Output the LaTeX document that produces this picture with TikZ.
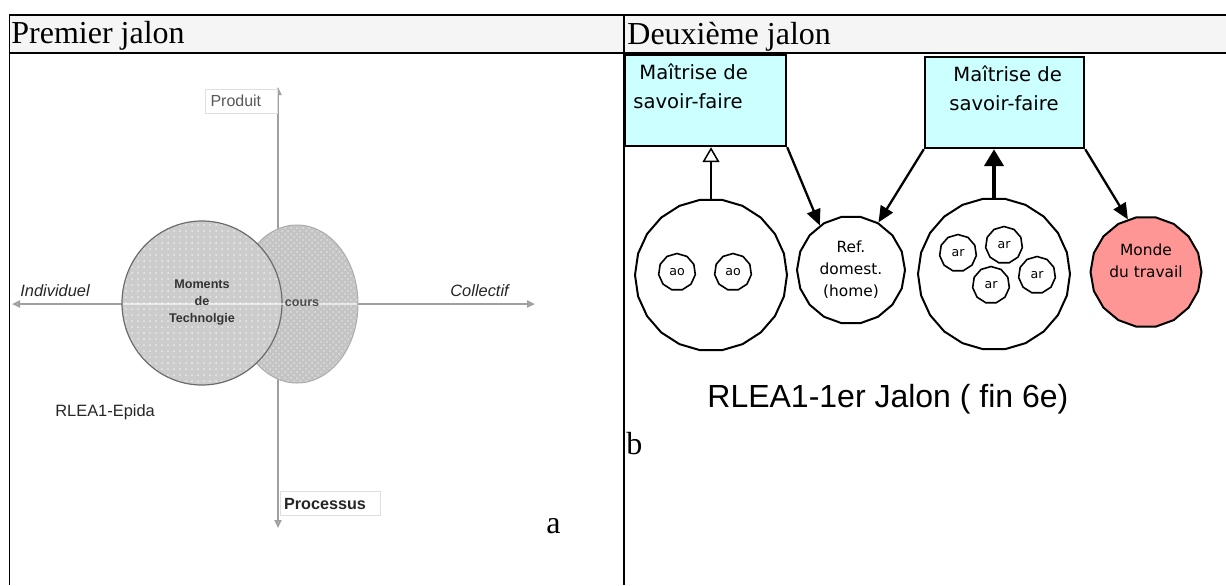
\documentclass[tikz,border=0pt]{standalone}
\usepackage{fontspec}
\setmainfont{Liberation Serif}
\newfontfamily\arialf{Liberation Sans}
\newfontfamily\dejavuf{DejaVu Sans}
\usepackage{tikz}
\usetikzlibrary{arrows.meta,shapes.geometric,patterns,calc}

\definecolor{savoirCyan}{RGB}{204,255,255}
\definecolor{mondeRose}{RGB}{255,150,150}
\definecolor{enteteGris}{RGB}{245,245,245}
\definecolor{axeGris}{RGB}{160,160,160}

\begin{document}
\begin{tikzpicture}[
    x=0.5pt,
    y=-0.5pt,
    entete/.style={
        font=\fontsize{16}{19}\selectfont,
        inner sep=0pt,
        anchor=base west
    },
    axe/.style={
        draw=axeGris,
        line width=1pt,
        {Triangle[open,length=4pt,width=3.5pt]}-{Triangle[open,length=4pt,width=3.5pt]}
    },
    etiquetteAxe/.style={
        draw=gray!25,
        fill=white,
        font=\arialf\fontsize{8}{9}\selectfont,
        align=left,
        inner xsep=2.5pt,
        inner ysep=0pt,
        minimum height=12pt
    },
    motAxe/.style={
        font=\arialf\itshape\fontsize{8.2}{9}\selectfont,
        text=black!85,
        inner sep=0pt,
        anchor=base west
    },
    moments/.style={
        font=\arialf\bfseries\fontsize{6.3}{8.5}\selectfont,
        text=black!80,
        align=center,
        inner sep=0pt
    },
    savoirBox/.style={
        draw=black,
        fill=savoirCyan,
        line width=1.2pt,
        minimum height=45.5pt,
        inner sep=0pt
    },
    savoirTexte/.style={
        font=\dejavuf\fontsize{9.8}{14.5}\selectfont,
        align=left,
        inner sep=0pt,
        anchor=north west
    },
    grandCercle/.style={
        regular polygon,
        regular polygon sides=22,
        draw=black,
        fill=white,
        line width=1pt,
        minimum size=76pt,
        inner sep=0pt
    },
    moyenCercle/.style={
        regular polygon,
        regular polygon sides=18,
        draw=black,
        line width=1pt,
        inner sep=0pt,
        align=center,
        font=\dejavuf\fontsize{7.7}{11}\selectfont
    },
    petitCercle/.style={
        regular polygon,
        regular polygon sides=11,
        draw=black,
        fill=white,
        line width=0.8pt,
        minimum size=18.5pt,
        inner sep=0pt,
        font=\dejavuf\fontsize{6.3}{7}\selectfont
    },
    flecheOuverte/.style={
        -{Triangle[open,length=7.5pt,width=8.5pt]},
        line width=0.75pt
    },
    fleche/.style={
        -{Triangle[length=8pt,width=7pt]},
        line width=1.15pt
    },
    flecheEpaisse/.style={
        -{Triangle[length=8.5pt,width=9.5pt]},
        line width=2.3pt
    }
]
\useasboundingbox (0,0) rectangle (1226,585);

% tableau
\fill[enteteGris] (9.5,15) rectangle (1226,53);
\draw[line width=1.2pt] (9,15) -- (1226,15);
\draw[line width=1.3pt] (9,53) -- (1226,53);
\draw[line width=0.8pt] (9.5,14) -- (9.5,585);
\draw[line width=0.8pt] (624,14) -- (624,585);

\node[entete] (premier) at (11,43) {Premier jalon};
\node[entete] (deuxieme) at (627,44) {Deuxième jalon};

% premier jalon
\draw[axe] (278,528) -- (278,87);
\draw[axe] (12,304) -- (535,304);

\fill[gray!46] (297,304) ellipse [x radius=61, y radius=79];
\fill[pattern=crosshatch dots, pattern color=white, opacity=0.45]
(297,304) ellipse [x radius=61, y radius=79];
\draw[gray!65, line width=0.5pt] (297,304) ellipse [x radius=61, y radius=79];

\fill[gray!40] (202,303) ellipse [x radius=80, y radius=82];
\fill[pattern=dots, pattern color=white, opacity=0.6]
(202,303) ellipse [x radius=80, y radius=82];
\draw[gray!85!black, line width=0.6pt] (202,303) ellipse [x radius=80, y radius=82];

\draw[white, opacity=0.6, line width=0.9pt] (123,304) -- (357,304);

\node[moments] (technologie) at (202,302) {Moments\\de\\Technolgie};
\node[moments, text=black!70] (cours) at (302,303) {cours};

\node[etiquetteAxe, text width=31pt, text=black!65] (produit) at (241.5,101) {Produit};
\node[etiquetteAxe, text width=46pt, inner xsep=2pt, text=black!85,
    font=\arialf\bfseries\fontsize{8.1}{9}\selectfont] (processus) at (330,503.5) {Processus};

\node[motAxe] (individuel) at (20,296) {Individuel};
\node[motAxe] (collectif) at (450,296) {Collectif};
\node[motAxe, font=\arialf\fontsize{8.2}{9}\selectfont] (epida) at (55,416) {RLEA1-Epida};

\node[entete] (lettreA) at (546,533) {a};

% deuxieme jalon
\node[savoirBox, minimum width=80.5pt] (savoirA) at (705.5,100.5) {};
\node[savoirBox, minimum width=79.5pt] (savoirB) at (1004.5,102.5) {};
\node[savoirTexte] (texteA) at (633,63) {\hspace*{3pt}Maîtrise de\\savoir-faire};
\node[savoirTexte] (texteB) at (949,65) {\hspace*{2pt}Maîtrise de\\savoir-faire};

\node[grandCercle] (groupeAO) at (711,275) {};
\node[grandCercle] (groupeAR) at (994,274) {};
\node[moyenCercle, fill=white, minimum size=54pt] (refDom) at (851,270) {Ref.\\domest.\\(home)};
\node[moyenCercle, fill=mondeRose, minimum size=55.5pt] (mondeTravail) at (1146,272) {Monde\\du travail\\~};

\foreach \nom/\x/\y in {ao1/677/272, ao2/733/272}{
    \node[petitCercle] (\nom) at (\x,\y) {ao};
}
\foreach \nom/\x/\y in {ar1/958/253, ar2/1004/245, ar3/991/285, ar4/1037/275}{
    \node[petitCercle] (\nom) at (\x,\y) {ar};
}

\draw[flecheOuverte] (groupeAO.north) -- (groupeAO.north |- savoirA.south);
\draw[fleche] (savoirA.south east) -- (refDom.125);
\draw[fleche] (savoirB.south west) -- (refDom.60);
\draw[flecheEpaisse] (groupeAR.north) -- (groupeAR.north |- savoirB.south);
\draw[fleche] (savoirB.south east) -- (mondeTravail.109);

\node[entete, font=\arialf\fontsize{16}{19}\selectfont] (titreJalon) at (707,407) {RLEA1-1er Jalon ( fin 6e)};
\node[entete] (lettreB) at (626,454) {b};
\end{tikzpicture}
\end{document}
